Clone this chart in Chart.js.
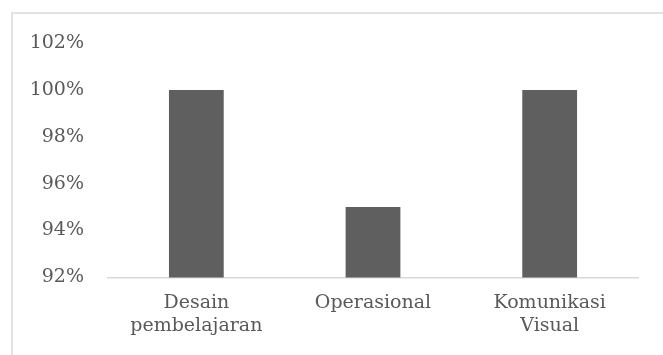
<!DOCTYPE html>
<html>
<head>
<meta charset="utf-8">
<script src="https://cdn.jsdelivr.net/npm/chart.js@4"></script>
<style>
    html, body { margin: 0; padding: 0; background: #fff; }
    .wrap { position: relative; width: 663px; height: 355px; overflow: hidden; }
    .frame {
        position: absolute; left: 11px; top: 12px; width: 700px; height: 400px;
        border-top: 2px solid #e2e2e2; border-left: 2px solid #e2e2e2;
    }
    canvas { position: absolute; left: 0; top: 0; }
</style>
</head>
<body>
<div class="wrap">
    <div class="frame"></div>
    <canvas id="chart" width="663" height="355"></canvas>
</div>
<script>
// ===== Data =====
const categories = [['Desain', 'pembelajaran'], 'Operasional', ['Komunikasi', 'Visual']];
const values = [100, 95, 100];
const yTicks = [92, 94, 96, 98, 100, 102];

const font = { family: '"DejaVu Serif", serif', size: 19 };

const ctx = document.getElementById('chart').getContext('2d');
new Chart(ctx, {
    type: 'bar',
    data: {
        labels: categories,
        datasets: [{
            data: values,
            backgroundColor: '#5f5f5f',
            barPercentage: 0.31,
            categoryPercentage: 1
        }]
    },
    options: {
        responsive: false,
        animation: false,
        layout: { padding: { left: 0, right: 25, top: 43, bottom: 4 } },
        plugins: { legend: { display: false }, tooltip: { enabled: false } },
        scales: {
            x: {
                grid: { display: false, drawTicks: false },
                border: { display: true, color: '#d9d9d9', width: 1.5 },
                ticks: { color: '#595959', font: font, padding: 14, maxRotation: 0 }
            },
            y: {
                min: yTicks[0],
                max: yTicks[yTicks.length - 1],
                afterBuildTicks: axis => { axis.ticks = yTicks.map(v => ({ value: v })); },
                afterFit: axis => { axis.width = 108; },
                grid: { display: false, drawTicks: false },
                border: { display: false },
                ticks: {
                    color: '#595959', font: font, padding: 24,
                    callback: v => v + '%'
                }
            }
        }
    }
});
</script>
</body>
</html>
